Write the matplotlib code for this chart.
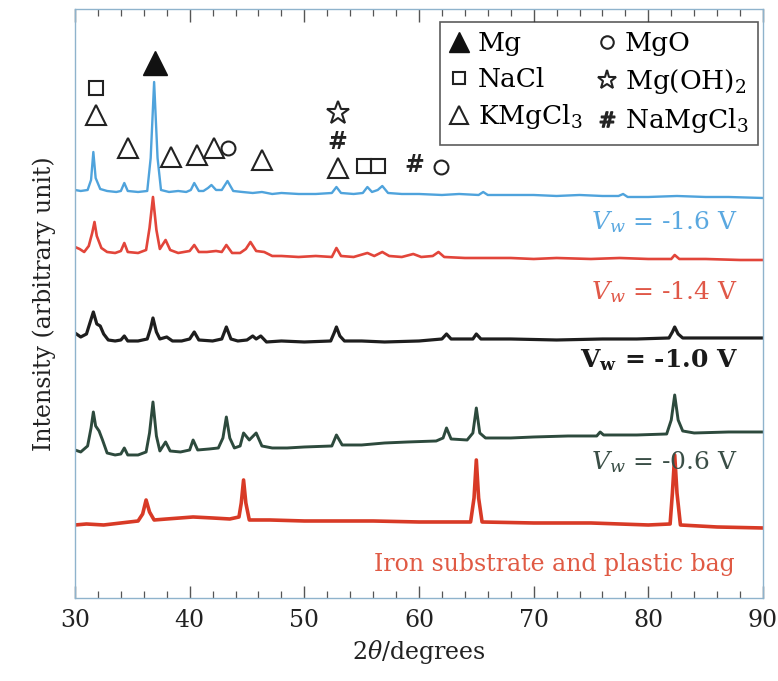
import matplotlib
matplotlib.use('Agg')
import matplotlib.pyplot as plt
from matplotlib.lines import Line2D
from matplotlib.ticker import MultipleLocator

plt.rcParams['font.family'] = ['DejaVu Serif']
plt.rcParams['mathtext.fontset'] = 'dejavuserif'

# XRD traces, intensity in arbitrary units (stacked offsets included)
x_16 = [30, 30.5, 31.1, 31.4, 31.6, 31.8, 32.2, 32.8, 33.6, 34.0, 34.3, 34.6, 35.5,
        36.3, 36.6, 36.9, 37.2, 37.5, 38.2, 39.0, 39.7, 40.1, 40.4, 40.8, 41.2,
        41.6, 41.9, 42.3, 42.8, 43.3, 43.8, 44.6, 45.5, 46.3, 47.2, 48.0, 49.5,
        51.0, 52.4, 52.8, 53.2, 54.3, 55.1, 55.5, 55.9, 56.4, 56.8, 57.3, 58.5,
        60.0, 62.0, 63.5, 65.2, 65.6, 66.0, 68, 70, 72, 74, 76, 77.4, 77.8, 78.2,
        80, 82.5, 85, 87, 90]
y_16 = [408, 407, 408, 418, 446, 420, 409, 407, 406, 407, 415, 407, 406,
        407, 440, 516, 440, 408, 406, 407, 406, 408, 415, 407, 407,
        410, 413, 408, 408, 417, 407, 406, 405, 406, 404, 405, 404,
        404, 405, 411, 405, 404, 405, 411, 406, 408, 412, 405, 404,
        404, 403, 404, 403, 406, 403, 403, 403, 402, 403, 402, 402, 404, 401,
        401, 402, 401, 401, 400]

x_14 = [30, 30.4, 30.8, 31.2, 31.5, 31.7, 31.9, 32.3, 32.8, 33.5, 34.0, 34.3, 34.6,
        35.5, 36.2, 36.5, 36.8, 37.1, 37.4, 37.9, 38.3, 39.0, 40.0, 40.4, 40.8,
        41.5, 42.3, 42.8, 43.2, 43.7, 44.4, 44.9, 45.3, 45.8, 46.5, 47.2, 48,
        49.5, 51, 52.4, 52.8, 53.2, 54.3, 55.5, 56.1, 56.8, 57.4, 58.5, 59.5,
        60.2, 61.2, 61.7, 62.2, 64, 66, 68, 70, 72, 75, 77.5, 80, 82.0, 82.3,
        82.7, 85, 88, 90]
y_14 = [351, 349, 346, 352, 365, 376, 362, 350, 346, 345, 347, 355, 346,
        345, 348, 370, 401, 368, 349, 358, 348, 345, 347, 353, 346,
        346, 347, 346, 353, 345, 345, 349, 356, 347, 346, 342, 342,
        341, 342, 341, 350, 342, 341, 345, 342, 346, 342, 341, 344,
        341, 342, 346, 341, 340, 340, 340, 339, 340, 339, 340, 339, 339, 343,
        339, 339, 338, 338]

x_10 = [30, 30.5, 31.0, 31.3, 31.6, 31.9, 32.2, 32.5, 32.9, 33.5, 34.0, 34.3, 34.6,
        35.5, 36.3, 36.6, 36.8, 37.1, 37.4, 38.0, 38.5, 39.3, 40.0, 40.4, 40.8,
        42.0, 42.8, 43.2, 43.6, 44.2, 45.0, 45.5, 45.8, 46.2, 46.7, 48, 50,
        52.3, 52.6, 52.8, 53.1, 53.5, 55, 57, 60, 62.0, 62.4, 62.8, 64.7,
        65.0, 65.4, 68, 72, 76, 79, 81.8, 82.1, 82.3, 82.6, 83.0, 86, 90]
y_10 = [265, 261, 264, 275, 286, 274, 272, 264, 258, 257, 258, 262, 257,
        257, 259, 270, 280, 266, 259, 261, 257, 257, 259, 266, 258,
        257, 259, 271, 259, 257, 258, 262, 259, 262, 256, 257, 256,
        257, 265, 271, 262, 257, 257, 256, 257, 259, 264, 259, 259,
        264, 259, 259, 258, 259, 259, 260, 266, 271, 264, 260, 260, 260]

x_06 = [30, 30.5, 31.1, 31.4, 31.6, 31.8, 32.1, 32.4, 32.8, 33.5, 34.0, 34.3, 34.6,
        35.5, 36.2, 36.5, 36.8, 37.1, 37.4, 37.9, 38.3, 39.2, 40.0, 40.3, 40.7,
        41.7, 42.5, 42.9, 43.2, 43.5, 43.9, 44.4, 44.7, 45.2, 45.8, 46.3, 47.2,
        48.5, 50, 52.4, 52.8, 53.3, 55, 57, 59, 61.5, 62.1, 62.4, 62.8, 64.2,
        64.7, 65.0, 65.3, 65.8, 68, 70, 73, 75.5, 75.8, 76.1, 79, 81.6, 82.0,
        82.3, 82.6, 83.0, 84, 87, 90]
y_06 = [148, 146, 152, 170, 186, 172, 167, 158, 145, 143, 144, 150, 143,
        143, 146, 165, 196, 162, 147, 156, 147, 146, 148, 158, 148,
        149, 150, 160, 181, 160, 150, 152, 165, 158, 165, 152, 150,
        150, 151, 152, 163, 153, 153, 155, 156, 157, 160, 170, 159, 158,
        165, 190, 165, 160, 160, 161, 162, 162, 166, 163, 163, 164, 178,
        203, 178, 167, 165, 166, 166]

x_fe = [30, 31, 32.5, 34, 35.5, 35.9, 36.2, 36.5, 36.9, 38, 40.3, 42, 43.5, 44.3,
        44.5, 44.7, 44.9, 45.2, 47, 50, 53, 56, 60, 64.5, 64.8, 65.0, 65.2, 65.5,
        70, 75, 80, 81.9, 82.1, 82.3, 82.5, 82.8, 86, 90]
y_fe = [73, 74, 73, 75, 77, 84, 98, 86, 78, 79, 81, 80, 79, 81,
        95, 118, 95, 78, 78, 77, 77, 77, 76, 76, 100, 138, 100, 76,
        75, 75, 73, 74, 105, 143, 105, 73, 71, 70]

# phase markers above the top trace: (2theta, height)
mg_pk = [(37.0, 535)]
nacl_pk = [(31.8, 510), (55.2, 432), (56.4, 432)]
kmgcl3_pk = [(31.8, 483), (34.6, 450), (38.4, 441), (40.6, 443), (42.1, 450),
             (46.3, 438), (52.9, 430)]
mgo_pk = [(43.3, 450), (61.9, 431)]
mgoh2_pk = [(52.9, 485)]
namgcl3_pk = [(52.9, 456), (59.6, 433)]

blue = '#4fa3dc'
red = '#e2453a'
black = '#1e1e1e'
green = '#2d4a3d'
fe_red = '#d83a26'

fig = plt.figure(figsize=(7.78, 6.81), dpi=100)
ax = fig.add_axes([0.0964, 0.1219, 0.8843, 0.8649])

ax.plot(x_16, y_16, color=blue, lw=1.7)
ax.plot(x_14, y_14, color=red, lw=1.9)
ax.plot(x_10, y_10, color=black, lw=2.3)
ax.plot(x_06, y_06, color=green, lw=2.1)
ax.plot(x_fe, y_fe, color=fe_red, lw=2.6)

mk = dict(linestyle='none', color='#222222', markerfacecolor='none', markeredgewidth=1.5)
ax.plot(*zip(*mg_pk), marker='^', ms=17, linestyle='none', color='#111111')
ax.plot(*zip(*nacl_pk), marker='s', ms=10, **mk)
ax.plot(*zip(*kmgcl3_pk), marker='^', ms=15, **mk)
ax.plot(*zip(*mgo_pk), marker='o', ms=10, **mk)
ax.plot(*zip(*mgoh2_pk), marker='*', ms=17, **mk)
for px, py in namgcl3_pk:
    ax.text(px, py, '#', fontsize=17, fontweight='bold', ha='center', va='center', color='#222222')

ax.set_xlim(30, 90)
ax.set_ylim(0, 589)
ax.set_yticks([])
ax.xaxis.set_major_locator(MultipleLocator(10))
ax.xaxis.set_minor_locator(MultipleLocator(2))
ax.tick_params(axis='x', which='both', direction='in', top=True, colors='#555555',
               labelcolor='#222222', labelsize=17, pad=8)
ax.tick_params(axis='x', which='major', length=9, width=1)
ax.tick_params(axis='x', which='minor', length=5, width=0.9)
for s in ax.spines.values():
    s.set_color('#8fb3cc')
    s.set_linewidth(1.0)

ax.set_xlabel(r'2$\theta$/degrees', fontsize=17, color='#222222', labelpad=4)
ax.set_ylabel('Intensity (arbitrary unit)', fontsize=17, color='#222222', labelpad=14)

ax.text(87.8, 376, r'$V_w$ = -1.6 V', color='#5aa8e0', fontsize=18, ha='right', va='center')
ax.text(87.8, 306, r'$V_w$ = -1.4 V', color='#e05848', fontsize=18, ha='right', va='center')
ax.text(87.8, 238, r'$\mathbf{V_w}$ = -1.0 V', color='#1a1a1a', fontsize=18, ha='right',
        va='center', fontweight='bold')
ax.text(87.8, 136, r'$V_w$ = -0.6 V', color='#3a4e46', fontsize=18, ha='right', va='center')
ax.text(87.5, 33, 'Iron substrate and plastic bag', color='#e05a44', fontsize=17,
        ha='right', va='center')

handles = [
    Line2D([], [], marker='^', ms=14, linestyle='none', color='#111111'),
    Line2D([], [], marker='s', ms=9, **mk),
    Line2D([], [], marker='^', ms=13, **mk),
    Line2D([], [], marker='o', ms=9, **mk),
    Line2D([], [], marker='*', ms=14, **mk),
    Line2D([], [], marker=r'$\#$', ms=11, linestyle='none', color='#222222'),
]
labels = ['Mg', 'NaCl', r'KMgCl$_3$', 'MgO', r'Mg(OH)$_2$', r'NaMgCl$_3$']
leg = ax.legend(handles, labels, ncol=2, loc='upper right', bbox_to_anchor=(0.993, 0.978),
                fontsize=19, frameon=True, fancybox=False, handlelength=0.8,
                handletextpad=0.3, columnspacing=0.5, labelspacing=0.4,
                borderpad=0.35, borderaxespad=0)
leg.get_frame().set_edgecolor('#333333')
leg.get_frame().set_linewidth(1.2)

fig.savefig('out.png', dpi=100, facecolor='white')
